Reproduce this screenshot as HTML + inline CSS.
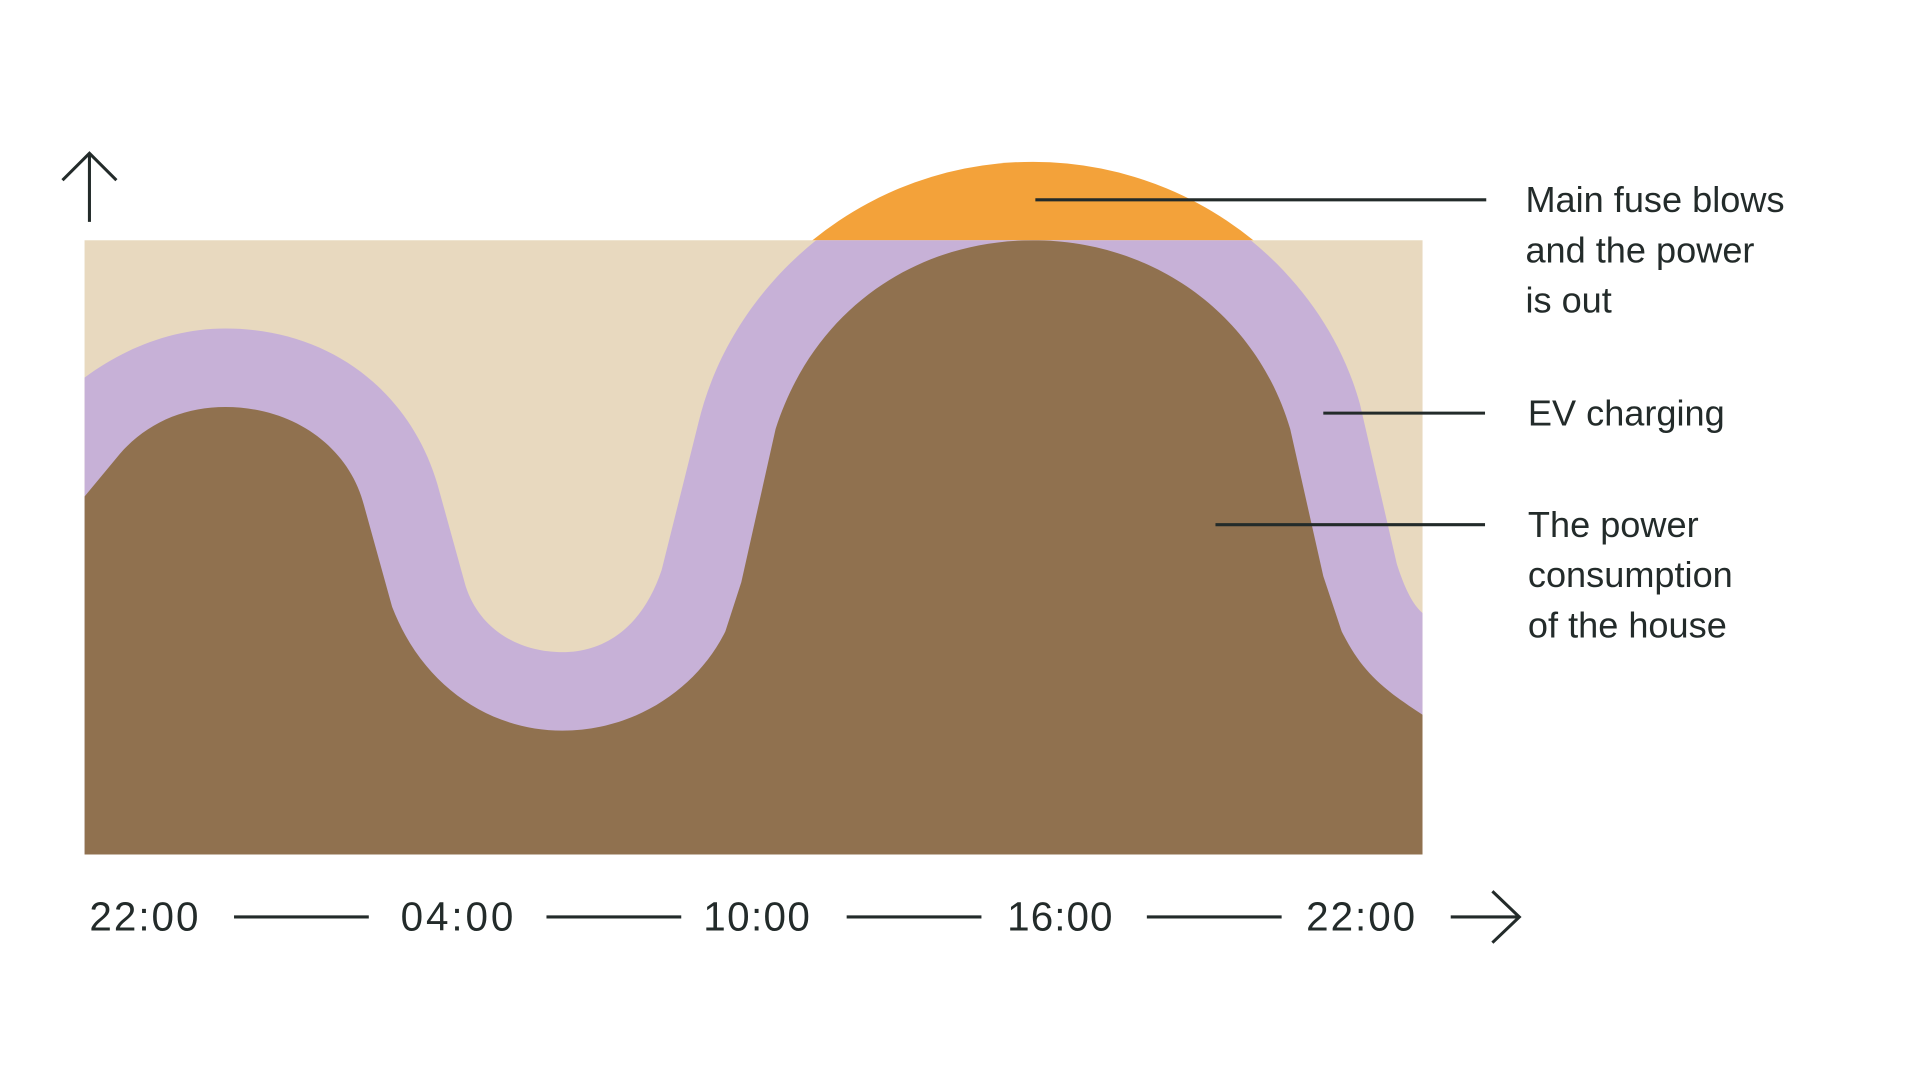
<!DOCTYPE html>
<html><head><meta charset="utf-8"><style>
html,body{margin:0;padding:0;background:#fff;}
svg{display:block;}
text{font-family:"Liberation Sans",sans-serif;fill:#232b2a;}
</style></head><body>
<svg width="1920" height="1080" viewBox="0 0 1567 881" preserveAspectRatio="none">
<defs>
<clipPath id="top"><rect x="0" y="0" width="1567" height="196"/></clipPath>
<clipPath id="box"><rect x="69" y="196" width="1092" height="501"/></clipPath>
</defs>
<rect x="69" y="196" width="1092" height="501" fill="#E8D9BF"/>
<circle cx="843" cy="417" r="285" fill="#F3A23A" clip-path="url(#top)"/>
<g clip-path="url(#box)">
<path fill="#C7B1D7" d="M69,308 C100,285 140,268 184,268 C270,268 335,320 357,395 L380,478 C392,515 425,532 459,532 C495,532 525,510 540,465 L570,345 C600,220 720,132 843,132 C970,132 1080,220 1110,330 L1140,460 C1148,485 1155,495 1161,500 L1161,697 L69,697 Z"/>
<path fill="#90714F" d="M69,405 L98,370 C120,345 150,332 184,332 C240,332 285,365 297,412 L320,495 C345,560 400,596 459,596 C520,596 570,560 592,515 L605,475 L633,350 C665,250 750,196 843,196 C940,196 1025,255 1053,350 L1080,470 L1095,515 C1110,545 1125,560 1161,583 L1161,697 L69,697 Z"/>
</g>
<g stroke="#232b2a" stroke-width="2.5" fill="none">
<line x1="845" y1="163" x2="1213" y2="163"/>
<line x1="1080" y1="337" x2="1212" y2="337"/>
<line x1="992" y1="428" x2="1212" y2="428"/>
<line x1="73" y1="181" x2="73" y2="126"/>
<polyline points="51,147 73,125 95,147"/>
<line x1="191" y1="748" x2="301" y2="748"/>
<line x1="446" y1="748" x2="556" y2="748"/>
<line x1="691" y1="748" x2="801" y2="748"/>
<line x1="936" y1="748" x2="1046" y2="748"/>
<line x1="1184" y1="748" x2="1239" y2="748"/>
<polyline points="1218,727 1240,748 1218,769"/>
</g>
<g font-size="29.5">
<text x="1245" y="173">Main fuse blows</text>
<text x="1245" y="214">and the power</text>
<text x="1245" y="255">is out</text>
<text x="1247" y="347">EV charging</text>
<text x="1247" y="438">The power</text>
<text x="1247" y="479">consumption</text>
<text x="1247" y="520">of the house</text>
</g>
<g font-size="33">
<text x="73" y="759" textLength="89">22:00</text>
<text x="327" y="759" textLength="92">04:00</text>
<text x="574" y="759" textLength="87">10:00</text>
<text x="822" y="759" textLength="86">16:00</text>
<text x="1066" y="759" textLength="89">22:00</text>
</g>
</svg>
</body></html>
